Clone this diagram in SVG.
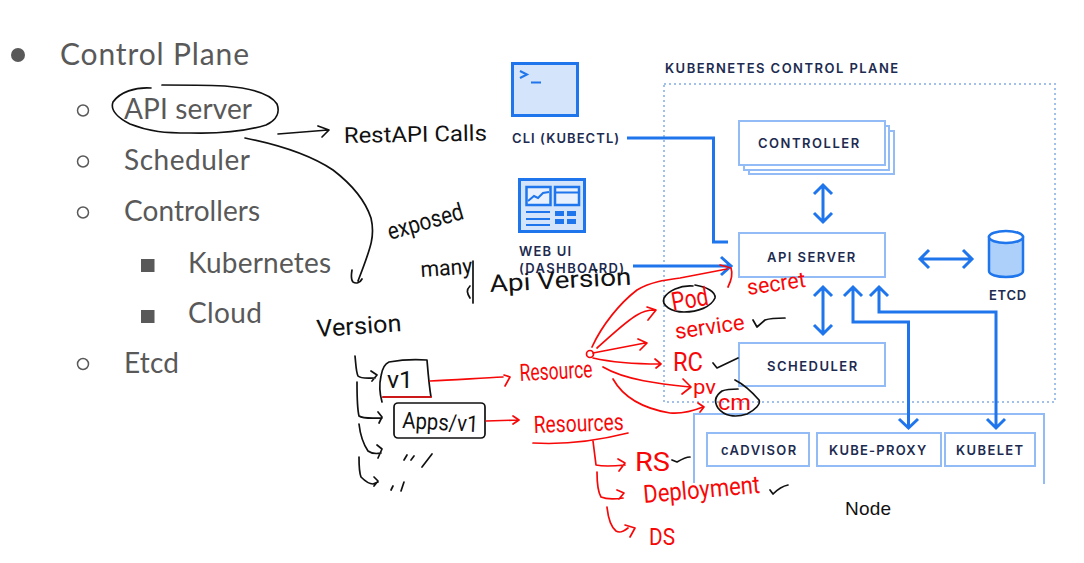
<svg xmlns="http://www.w3.org/2000/svg" width="1084" height="563" viewBox="0 0 1084 563">
<style>
.b{font-family:"Lato","Open Sans","Liberation Sans",sans-serif;font-size:28px;fill:#595959}
.l{font-family:"Inter","Lato","Liberation Sans",sans-serif;font-weight:600;font-size:13px;letter-spacing:.8px;fill:#1d2b50}
.box{fill:#fff;stroke:#93bcf7;stroke-width:2}
.ar{fill:none;stroke:#1f75ec;stroke-width:3}
.k{fill:none;stroke:#111;stroke-width:1.700;stroke-linecap:round;stroke-linejoin:round}
.r{fill:none;stroke:#f70808;stroke-width:1.700;stroke-linecap:round;stroke-linejoin:round}
.hk{font-family:"Roboto","Liberation Sans",sans-serif;font-weight:400;fill:#111}
.hr{font-family:"Roboto","Liberation Sans",sans-serif;font-weight:400;fill:#f70808}
</style>
<rect width="1084" height="563" fill="#fff"/>

<g id="outline">
<circle cx="18" cy="55" r="7" fill="#595959"/>
<text class="b" x="60" y="65" font-size="30" style="font-size:30px" textLength="189">Control Plane</text>
<circle cx="83" cy="110.500" r="5.500" fill="none" stroke="#595959" stroke-width="1.500"/>
<text class="b" x="124" y="119" textLength="128">API server</text>
<circle cx="83" cy="161.500" r="5.500" fill="none" stroke="#595959" stroke-width="1.500"/>
<text class="b" x="124" y="170" textLength="126">Scheduler</text>
<circle cx="83" cy="212.500" r="5.500" fill="none" stroke="#595959" stroke-width="1.500"/>
<text class="b" x="124" y="221" textLength="136">Controllers</text>
<rect x="141" y="259" width="13.500" height="13" fill="#595959"/>
<text class="b" x="188" y="273" textLength="143">Kubernetes</text>
<rect x="141" y="310" width="13.500" height="13" fill="#595959"/>
<text class="b" x="188" y="323" textLength="74">Cloud</text>
<circle cx="83" cy="364" r="5.500" fill="none" stroke="#595959" stroke-width="1.500"/>
<text class="b" x="124" y="373" textLength="55">Etcd</text>
</g>

<g id="cli">
<rect x="512.500" y="63.500" width="65" height="52" fill="#d3e4fb" stroke="#1f75ec" stroke-width="3"/>
<path d="M520 71L527 74.500L520 78M531 82.500H541" fill="none" stroke="#1f75ec" stroke-width="2"/>
<text class="l" x="512" y="143" textLength="108">CLI (KUBECTL)</text>
</g>
<g id="webui">
<rect x="519.500" y="179.500" width="65" height="52" fill="#d3e4fb" stroke="#1f75ec" stroke-width="3"/>
<rect x="526.500" y="187" width="24" height="18" fill="#e8f1fd" stroke="#1f75ec" stroke-width="2.500"/>
<path d="M528 201L534 196L538 198L543 193L549 192" fill="none" stroke="#1f75ec" stroke-width="2"/>
<rect x="555" y="187" width="24" height="18" fill="#e8f1fd" stroke="#1f75ec" stroke-width="2.500"/>
<path d="M555 192.500H579M526 212H550M526 219H550M526 225H550" fill="none" stroke="#1f75ec" stroke-width="2"/>
<path d="M555 211h9v5h-9zM567 211h9v5h-9zM555 219h9v5h-9zM567 219h9v5h-9z" fill="#1f75ec"/>
<text class="l" x="519" y="256" textLength="53">WEB UI</text>
<text class="l" x="519" y="273" textLength="106">(DASHBOARD)</text>
</g>

<g id="control-plane">
<rect x="664" y="84" width="391" height="318" fill="none" stroke="#a3c1e8" stroke-width="2" stroke-dasharray="2 3"/>
<text class="l" x="665" y="73" textLength="234">KUBERNETES CONTROL PLANE</text>
</g>
<g id="controller">
<rect class="box" x="749" y="131" width="145" height="43"/>
<rect class="box" x="744" y="126" width="145" height="44"/>
<rect class="box" x="739" y="121" width="146" height="44"/>
<text class="l" x="758" y="148" textLength="102">CONTROLLER</text>
</g>
<g id="api-server">
<rect class="box" x="739" y="233" width="146" height="44"/>
<text class="l" x="767" y="262" textLength="89">API SERVER</text>
</g>
<g id="scheduler">
<rect class="box" x="739" y="343" width="146" height="43"/>
<text class="l" x="767" y="371" textLength="91">SCHEDULER</text>
</g>
<g id="etcd">
<path d="M989 237V271C989 279 1023 279 1023 271V237Z" fill="#acd0f9" stroke="#1f75ec" stroke-width="2.500"/>
<ellipse cx="1006" cy="237" rx="17" ry="6" fill="#fff" stroke="#1f75ec" stroke-width="2.500"/>
<text class="l" x="989" y="300" textLength="38">ETCD</text>
</g>
<g id="node">
<path d="M694 483V414H1044V484" fill="none" stroke="#93bcf7" stroke-width="2"/>
<text x="845" y="515" textLength="46" font-family="'Liberation Sans',sans-serif" font-size="19" fill="#111">Node</text>
</g>
<g id="cadvisor">
<rect class="box" x="707" y="433" width="102" height="33"/>
<text class="l" x="721" y="455" textLength="76">cADVISOR</text>
</g>
<g id="kube-proxy">
<rect class="box" x="817" y="433" width="124" height="33"/>
<text class="l" x="829" y="455" textLength="98">KUBE-PROXY</text>
</g>
<g id="kubelet">
<rect class="box" x="945" y="433" width="90" height="33"/>
<text class="l" x="956" y="455" textLength="68">KUBELET</text>
</g>

<g id="connectors">
<path class="ar" d="M627 138H713.500V242H728"/>
<path class="ar" d="M633 266H731M721 257L731 266L721 275"/>
<path class="ar" d="M823 185V222M814 194L823 185L832 194M814 213L823 222L832 213"/>
<path class="ar" d="M921 259H971M929 250L920 259L929 268M963 250L972 259L963 268"/>
<path class="ar" d="M823 287V334M814 296L823 287L832 296M814 325L823 334L832 325"/>
<path class="ar" d="M853 287V322H908.500V428M844 296L853 287L862 296M899 419L908.500 428L918 419"/>
<path class="ar" d="M879 287V312H996V428M870 296L879 287L888 296M987 419L996 428L1005 419"/>
</g>

<g id="ink-black">
<path class="k" d="M151 88C135 87 120 92 113 102C110 110 118 118 130 124C150 132 165 133 190 133C225 134 250 130 266 125C277 120 280 112 277 104C270 93 250 88 225 86C200 85 180 85 162 85"/>
<path class="k" d="M278 134L328 130M318 126L329 130L322 137"/>
<path class="k" d="M245 138C290 147 315 158 333 170C350 183 365 200 371 218C375 235 372 245 358 281M352 270C351 276 351 280 353 282C356 284 360 283 362 279"/>
<path class="k" d="M473 261V303M470 298C467 293 466 290 470 286"/>
<text class="hk" font-size="22" transform="translate(344 143) rotate(-1)" textLength="143" lengthAdjust="spacingAndGlyphs">RestAPI Calls</text>
<text class="hk" font-size="24" transform="translate(390 240) rotate(-16)" textLength="78" lengthAdjust="spacingAndGlyphs">exposed</text>
<text class="hk" font-size="22" transform="translate(421 277) rotate(-4)" textLength="52" lengthAdjust="spacingAndGlyphs">many</text>
<text class="hk" font-size="24" transform="translate(490 292) rotate(-3)" textLength="142" lengthAdjust="spacingAndGlyphs">Api Version</text>
<text class="hk" font-size="24" transform="translate(317 337) rotate(-4)" textLength="85" lengthAdjust="spacingAndGlyphs">Version</text>
<path class="k" d="M355 356C356 365 356 372 358 376C361 379 368 378 375 378M371 371L377 375L372 381"/>
<path class="k" d="M357 382C357 395 357 408 359 416C363 419 372 418 382 418M378 412L382 417L379 423"/>
<path class="k" d="M359 424C360 433 362 442 368 451C372 454 376 454 381 453M377 445L382 449L378 458"/>
<path class="k" d="M359 457C359 465 359 472 361 477C366 482 370 484 373 484L378 482M374 477L378 481L374 486"/>
<path class="k" d="M382 402C380 395 379 385 381 376C382 370 384 364 389 362C400 360 415 359 427 360C428 372 429 385 431 397L383 397"/>
<text class="hk" font-size="24" x="387" y="388" textLength="26" lengthAdjust="spacingAndGlyphs">v1</text>
<rect class="k" x="394" y="403" width="91" height="35" rx="4"/>
<text class="hk" font-size="23" transform="translate(402 428) rotate(3)" textLength="76" lengthAdjust="spacingAndGlyphs">Apps/v1</text>
<path class="k" d="M404 460L407 455M411 460L414 456M422 467L432 454M391 490L393 486M401 491L404 482"/>
<path class="k" d="M693 286C680 285 668 291 664 298C661 306 672 312 684 312C698 312 711 307 715 298C716 292 707 287 695 285"/>
<path class="k" d="M735 380C743 384 752 392 759 400C761 404 755 410 747 414C735 418 724 416 718 408C714 402 715 396 722 391C727 389 733 389 738 389"/>
<path class="k" d="M753 320L757 327L765 320C771 318 778 318 785 318"/>
<path class="k" d="M713 363L717 368L738 358"/>
<path class="k" d="M672 460L677 462C682 459 686 457 690 457"/>
<path class="k" d="M770 490L773 494C778 489 783 486 788 485"/>
</g>

<g id="ink-red">
<path class="r" d="M430 381C455 380 480 378 503 377M504 375L510 377L505 386"/>
<path class="r" d="M383 397L431 397"/>
<text class="hr" font-size="24" transform="translate(520 381) rotate(-3)" textLength="73" lengthAdjust="spacingAndGlyphs">Resource</text>
<circle class="r" cx="590" cy="354" r="3.500"/>
<path class="r" d="M486 421L517 420M513 416L519 420L513 424"/>
<text class="hr" font-size="24" transform="translate(534 433) rotate(-2)" textLength="90" lengthAdjust="spacingAndGlyphs">Resources</text>
<path class="r" d="M533 443C565 445 600 440 628 433"/>
<path class="r" d="M593 441L596 465C605 467 615 466 625 465M618 459L625 463L619 471"/>
<path class="r" d="M597 472C597 482 598 492 601 497C608 500 616 499 623 498M617 490L624 493L619 499"/>
<path class="r" d="M607 507C608 517 610 526 616 531C620 533 623 532 628 528M625 525L635 528L630 537"/>
<text class="hr" font-size="26" x="635" y="471" textLength="35" lengthAdjust="spacingAndGlyphs">RS</text>
<text class="hr" font-size="25" transform="translate(644 503) rotate(-5)" textLength="117" lengthAdjust="spacingAndGlyphs">Deployment</text>
<text class="hr" font-size="24" x="649" y="545" textLength="26" lengthAdjust="spacingAndGlyphs">DS</text>
<path class="r" d="M592 347C602 325 620 303 637 290C650 282 665 280 680 278C695 275 712 272 727 269M720 265L731 268C733 274 731 281 728 287"/>
<path class="r" d="M597 348C612 335 625 322 637 315C643 311 649 310 655 310M647 307L656 310L648 320"/>
<path class="r" d="M593 353L645 343M638 339L647 343L640 350"/>
<path class="r" d="M593 358C615 363 640 364 660 364M655 359L661 364L656 368"/>
<path class="r" d="M603 367C625 380 660 384 690 387M683 379L691 387L682 394"/>
<path class="r" d="M613 379C622 395 640 408 670 413C682 414 693 411 703 407M698 403L704 407L700 412"/>
<text class="hr" font-size="26" transform="translate(673 311) rotate(-10)" textLength="37" lengthAdjust="spacingAndGlyphs">Pod</text>
<text class="hr" font-size="22" transform="translate(748 295) rotate(-8)" textLength="59" lengthAdjust="spacingAndGlyphs">secret</text>
<text class="hr" font-size="22" transform="translate(676 339) rotate(-8)" textLength="70" lengthAdjust="spacingAndGlyphs">service</text>
<text class="hr" font-size="25" x="673" y="371" textLength="30" lengthAdjust="spacingAndGlyphs">RC</text>
<text class="hr" font-size="20" x="693" y="394" textLength="23" lengthAdjust="spacingAndGlyphs">pv</text>
<text class="hr" font-size="22" x="718" y="410" textLength="33" lengthAdjust="spacingAndGlyphs">cm</text>
</g>
</svg>
